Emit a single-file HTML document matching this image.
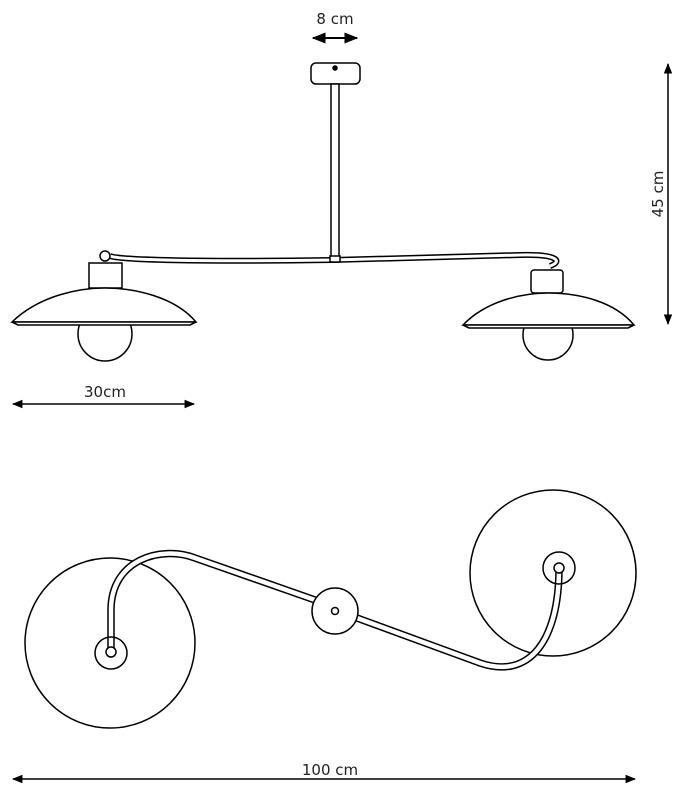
<!DOCTYPE html>
<html><head><style>
html,body{margin:0;padding:0;background:#fff;}
svg{display:block;}
text{font-family:"DejaVu Sans","Liberation Sans",sans-serif;font-size:15px;fill:#222;}
</style></head><body>
<svg width="689" height="795" viewBox="0 0 689 795" xmlns="http://www.w3.org/2000/svg">
<defs>
<marker id="ah" viewBox="0 0 10 10" refX="9" refY="5" markerWidth="7" markerHeight="7" orient="auto-start-reverse">
<path d="M0,1 L10,5 L0,9 z" fill="#000"/></marker>
</defs>
<g fill="none" stroke="#000" stroke-width="1.5">
<line x1="313" y1="38" x2="357" y2="38" marker-start="url(#ah)" marker-end="url(#ah)" stroke-width="2"/>
<line x1="668" y1="64" x2="668" y2="324" marker-start="url(#ah)" marker-end="url(#ah)"/>
<line x1="13" y1="404" x2="194" y2="404" marker-start="url(#ah)" marker-end="url(#ah)"/>
<line x1="13" y1="779" x2="635" y2="779" marker-start="url(#ah)" marker-end="url(#ah)"/>

<rect x="311" y="63" width="49" height="21" rx="5"/>
<circle cx="335" cy="68" r="2" fill="#000"/>
<rect x="331" y="84" width="8" height="174" fill="#fff"/>
<path d="M110,256 C120,260 200,262 332,260 L520,255 C560,254 562,262 550,266" stroke="#000" stroke-width="6"/>
<path d="M110,256 C120,260 200,262 332,260 L520,255 C560,254 562,262 550,266" stroke="#fff" stroke-width="3"/>
<rect x="330" y="256" width="10" height="6" fill="#fff"/>
<circle cx="105" cy="256" r="5" fill="#fff"/>
<rect x="89" y="263" width="33" height="25" fill="#fff"/>
<circle cx="105" cy="334" r="27" fill="#fff"/>
<path d="M12,322 C40,295 80,288 105,288 C135,288 175,297 196,322 Z" fill="#fff"/>
<path d="M12,322 L196,322 L190,325 L18,325 Z" fill="#fff" stroke-width="1.6"/>
<rect x="531" y="270" width="32" height="23" rx="3" fill="#fff"/>
<circle cx="548" cy="335" r="25" fill="#fff"/>
<path d="M463,325 C485,302 520,293 548,293 C580,293 615,302 634,325 Z" fill="#fff"/>
<path d="M463,325 L634,325 L628,328 L469,328 Z" fill="#fff" stroke-width="1.6"/>

<circle cx="110" cy="643" r="85"/>
<circle cx="553" cy="573" r="83"/>
<path d="M111,652 L111,610 C111,560 160,545 195,558 L315,600 M357,618 L480,663 C530,680 559,640 559,568" stroke-width="7.5"/>
<path d="M111,652 L111,610 C111,560 160,545 195,558 L315,600 M357,618 L480,663 C530,680 559,640 559,568" stroke="#fff" stroke-width="4.5"/>
<circle cx="111" cy="653" r="16"/>
<circle cx="111" cy="652" r="5" fill="#fff"/>
<circle cx="559" cy="568" r="16"/>
<circle cx="559" cy="568" r="5" fill="#fff"/>
<circle cx="335" cy="611" r="23" fill="#fff"/>
<circle cx="335" cy="611" r="3.5"/>
</g>
<text x="335" y="24" text-anchor="middle">8 cm</text>
<text x="105" y="397" text-anchor="middle">30cm</text>
<text x="330" y="775" text-anchor="middle">100 cm</text>
<text x="663" y="194" text-anchor="middle" transform="rotate(-90 663 194)">45 cm</text>
</svg>
</body></html>
